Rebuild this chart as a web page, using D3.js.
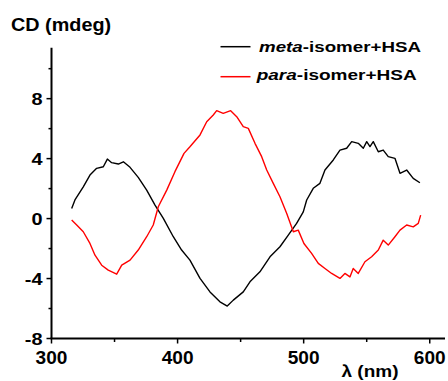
<!DOCTYPE html>
<html><head><meta charset="utf-8">
<script src="https://cdn.jsdelivr.net/npm/d3@7"></script>
<style>html,body{margin:0;padding:0;background:#fff;}svg{display:block;}</style>
</head><body>
<script>
const metaWl = [316,318.6,325.2,330.5,335.8,341.1,344.3,347.7,353,357,362.3,368.8,375.5,382.1,388.7,396.6,403.2,409.8,417.8,425.7,433.6,439.4,444.2,452.1,457.4,465.3,473.3,481.2,487.8,494.4,499.7,502.4,507.6,512.9,516.9,523.5,528.8,534.1,538.1,543.3,547.3,550,552.6,555.2,559.2,563.1,567.1,572.4,576.4,581.7,586.9,592.2];
const metaCD = [0.68,1.24,2.12,2.9,3.35,3.46,3.97,3.73,3.64,3.79,3.42,2.75,1.9,0.9,0.01,-1.21,-2.1,-2.77,-3.99,-4.89,-5.55,-5.84,-5.44,-4.89,-4.22,-3.55,-2.55,-1.88,-1.1,-0.32,0.45,1.24,2.02,2.35,3.24,3.91,4.57,4.69,5.13,5.02,4.69,5.13,4.8,5.13,4.46,4.57,4.13,4.02,3.02,3.24,2.68,2.39];
const paraWl = [316,320,325.2,330.5,334.5,339.8,345,351.7,355.7,362.3,368.8,375.5,380.7,384.7,391.4,397.9,405.1,409.8,417.8,423.1,428.3,431,436.2,442.1,446.9,452.1,456.1,461.4,466.7,470.7,475.9,481.2,486.5,491.8,495.7,500.2,506.3,511.6,516.9,522.2,528.8,532.7,536.7,539.3,543.3,548.6,553.9,559.2,563.1,567.1,572.4,576.4,581.7,586.9,590.9,592.8];
const paraCD = [-0.1,-0.43,-0.88,-1.66,-2.44,-3.11,-3.44,-3.71,-3.11,-2.77,-2.1,-1.21,-0.43,0.79,1.9,3.13,4.35,4.79,5.58,6.46,6.91,7.2,7.02,7.2,6.8,6.13,6.02,5.02,4.13,3.24,2.35,1.46,0.35,-0.88,-0.77,-1.66,-2.32,-2.99,-3.33,-3.66,-3.99,-3.66,-3.89,-3.33,-3.66,-2.88,-2.55,-2.1,-1.44,-1.77,-1.21,-0.77,-0.43,-0.55,-0.32,0.23];
const xTicks = [300,400,500,600];
const xMinor = [350,450,550];
const yTicks = [-8,-4,0,4,8];
const yMinor = [-6,-2,2,6,10];
const seriesNames = ["meta","para"];
const seriesColors = ["#000000","#ff0000"];

const W=448,H=381;
const svg=d3.select("body").append("svg").attr("width",W).attr("height",H);
const x=d3.scaleLinear().domain([300,612.1]).range([51.5,445]);
const y=d3.scaleLinear().domain([-8,11.4]).range([338.5,47.7]);

function stretch(sel, f){ sel.each(function(){ const n=this; const L=n.getComputedTextLength(); d3.select(n).attr("textLength",L*f).attr("lengthAdjust","spacingAndGlyphs"); }); }

// axes lines
svg.append("line").attr("x1",x(300)).attr("x2",x(300)).attr("y1",y(11.4)).attr("y2",y(-8)).attr("stroke","#000").attr("stroke-width",2);
svg.append("line").attr("x1",x(300)-1).attr("x2",445).attr("y1",y(-8)).attr("y2",y(-8)).attr("stroke","#000").attr("stroke-width",2);
// ticks
svg.selectAll(".xt").data(xTicks).enter().append("line").attr("x1",d=>x(d)).attr("x2",d=>x(d)).attr("y1",y(-8)).attr("y2",y(-8)+5).attr("stroke","#000").attr("stroke-width",1.5);
svg.selectAll(".xm").data(xMinor).enter().append("line").attr("x1",d=>x(d)).attr("x2",d=>x(d)).attr("y1",y(-8)).attr("y2",y(-8)+3.5).attr("stroke","#000").attr("stroke-width",1.5);
svg.selectAll(".yt").data(yTicks).enter().append("line").attr("x1",x(300)-5).attr("x2",x(300)).attr("y1",d=>y(d)).attr("y2",d=>y(d)).attr("stroke","#000").attr("stroke-width",1.5);
svg.selectAll(".ym").data(yMinor).enter().append("line").attr("x1",x(300)-3).attr("x2",x(300)).attr("y1",d=>y(d)).attr("y2",d=>y(d)).attr("stroke","#000").attr("stroke-width",1.5);

const font="Liberation Sans, Arial, sans-serif";
const xl=svg.selectAll(".xl").data(xTicks).enter().append("text").attr("x",d=>x(d)).attr("y",363.5).attr("text-anchor","middle")
  .attr("font-family",font).attr("font-weight","bold").attr("font-size",18).text(d=>d);
stretch(xl,1.06);
const yl=svg.selectAll(".yl").data(yTicks).enter().append("text").attr("x",42.5).attr("y",d=>y(d)+6).attr("text-anchor","end")
  .attr("font-family",font).attr("font-weight","bold").attr("font-size",17).text(d=>d);
stretch(yl,1.17);

const yt=svg.append("text").attr("x",11).attr("y",30.5).attr("font-family",font).attr("font-weight","bold").attr("font-size",18).text("CD (mdeg)");
stretch(yt,1.1);
const xt=svg.append("text").attr("x",341.5).attr("y",377).attr("font-family",font).attr("font-weight","bold").attr("font-size",17).text("λ (nm)");
xt.attr("textLength",57).attr("lengthAdjust","spacingAndGlyphs");

// lines
const line=d3.line().x(d=>x(d[0])).y(d=>y(d[1]));
const metaData=metaWl.map((w,i)=>[w,metaCD[i]]);
const paraData=paraWl.map((w,i)=>[w,paraCD[i]]);
svg.append("path").datum(metaData).attr("d",line).attr("fill","none").attr("stroke",seriesColors[0]).attr("stroke-width",1.4).attr("stroke-linejoin","round");
svg.append("path").datum(paraData).attr("d",line).attr("fill","none").attr("stroke",seriesColors[1]).attr("stroke-width",1.4).attr("stroke-linejoin","round");

// legend
const leg=[{name:seriesNames[0],c:seriesColors[0],ly:46.7,tx:259,ty:51.7,len:162},{name:seriesNames[1],c:seriesColors[1],ly:76.7,tx:256.7,ty:80,len:160}];
leg.forEach(l=>{
  svg.append("line").attr("x1",220.5).attr("x2",250.5).attr("y1",l.ly).attr("y2",l.ly).attr("stroke",l.c).attr("stroke-width",1.5);
  const t=svg.append("text").attr("x",l.tx).attr("y",l.ty).attr("font-family",font).attr("font-weight","bold").attr("font-size",15);
  t.append("tspan").attr("font-style","italic").text(l.name);
  t.append("tspan").text("-isomer+HSA");
  t.attr("textLength",l.len).attr("lengthAdjust","spacingAndGlyphs");
});
</script>
</body></html>
